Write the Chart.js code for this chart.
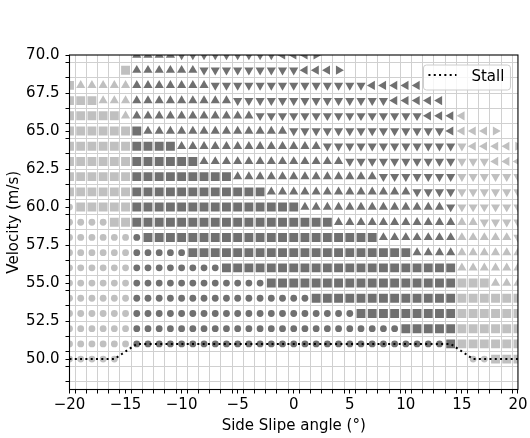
<!DOCTYPE html>
<html>
<head>
<meta charset="utf-8">
<script src="https://cdn.jsdelivr.net/npm/chart.js@4.4.0/dist/chart.umd.min.js"></script>
<style>
  html, body { margin: 0; padding: 0; background: #fff; }
  #wrap { width: 530px; height: 438px; position: relative; }
</style>
</head>
<body>
<div id="wrap"><canvas id="chart"></canvas></div>
<script>
// Test grid: side slip angle columns and velocity rows
const angles = [-20, -19, -18, -17, -16, -15, -14, -13, -12, -11, -10, -9, -8, -7, -6, -5, -4, -3, -2, -1,
                0, 1, 2, 3, 4, 5, 6, 7, 8, 9, 10, 11, 12, 13, 14, 15, 16, 17, 18, 19, 20];
const velocities = [70, 69, 68, 67, 66, 65, 64, 63, 62, 61, 60, 59, 58, 57, 56, 55, 54, 53, 52, 51, 50];

// For each velocity row: [first angle, marker code] segments, running to the next segment.
// c circle, s square, u/d/l/r triangle up/down/left/right; upper case = dark grey, lower case = light grey, '.' = none
const rowSegments = [
  [[-20, '.'], [-14, 'U'], [-10, 'D'], [-1, 'L'], [2, 'R'], [3, '.']],
  [[-20, '.'], [-15, 's'], [-14, 'U'], [-8, 'D'], [1, 'L'], [4, 'R'], [5, '.']],
  [[-20, 's'], [-19, 'u'], [-14, 'U'], [-7, 'D'], [7, 'L'], [12, '.']],
  [[-20, 's'], [-17, 'u'], [-14, 'U'], [-5, 'D'], [9, 'L'], [14, '.']],
  [[-20, 's'], [-15, 'u'], [-14, 'U'], [-3, 'D'], [12, 'L'], [15, 'l'], [16, '.']],
  [[-20, 's'], [-14, 'S'], [-13, 'U'], [0, 'D'], [14, 'L'], [15, 'l'], [18, 'r'], [19, '.']],
  [[-20, 's'], [-14, 'S'], [-10, 'U'], [3, 'D'], [15, 'd'], [16, 'l'], [20, 'r']],
  [[-20, 's'], [-14, 'S'], [-8, 'U'], [5, 'D'], [15, 'd'], [18, 'l']],
  [[-20, 's'], [-14, 'S'], [-5, 'U'], [8, 'D'], [15, 'd']],
  [[-20, 's'], [-14, 'S'], [-2, 'U'], [11, 'D'], [15, 'd']],
  [[-20, 'c'], [-19, 's'], [-14, 'S'], [1, 'U'], [14, 'D'], [15, 'd']],
  [[-20, 'c'], [-16, 's'], [-14, 'S'], [4, 'U'], [15, 'u'], [17, 'd']],
  [[-20, 'c'], [-14, 'C'], [-13, 'S'], [8, 'U'], [15, 'u'], [20, 'd']],
  [[-20, 'c'], [-14, 'C'], [-9, 'S'], [11, 'U'], [15, 'u']],
  [[-20, 'c'], [-14, 'C'], [-6, 'S'], [15, 'u']],
  [[-20, 'c'], [-14, 'C'], [-2, 'S'], [15, 's'], [18, 'u']],
  [[-20, 'c'], [-14, 'C'], [2, 'S'], [15, 's']],
  [[-20, 'c'], [-14, 'C'], [6, 'S'], [15, 's']],
  [[-20, 'c'], [-14, 'C'], [10, 'S'], [15, 's']],
  [[-20, 'c'], [-14, 'C'], [14, 'S'], [15, 's']],
  [[-20, 'c'], [-15, '.'], [16, 'c'], [18, 's']]
];

// Stall boundary
const stallAngles = [-20, -16, -14, 14, 16, 20];
const stallVelocity = [50, 50, 51, 51, 50, 50];

const xTickLabels = [-20, -15, -10, -5, 0, 5, 10, 15, 20];
const yTickLabels = [50, 52.5, 55, 57.5, 60, 62.5, 65, 67.5, 70];

const darkGrey = '#707070';
const lightGrey = '#c0c0c0';
const fontFamily = "'DejaVu Sans', sans-serif";
const fontSize = 15;

const markerShapes = {
  c: { style: 'circle', radius: 3.4, rotation: 0 },
  s: { style: 'rect', radius: 6.3, rotation: 0 },
  u: { style: 'triangle', radius: 5.3, rotation: 0 },
  d: { style: 'triangle', radius: 5.3, rotation: 180 },
  l: { style: 'triangle', radius: 5.3, rotation: 270 },
  r: { style: 'triangle', radius: 5.3, rotation: 90 }
};

// group the grid points by marker code
const pointGroups = {};
velocities.forEach((v, row) => {
  angles.forEach(a => {
    let code = '.';
    rowSegments[row].forEach(([from, c]) => { if (a >= from) code = c; });
    if (code === '.') return;
    if (!pointGroups[code]) pointGroups[code] = [];
    pointGroups[code].push({ x: a, y: v });
  });
});

const markerDatasets = Object.keys(pointGroups).map(code => {
  const shape = markerShapes[code.toLowerCase()];
  const colour = code === code.toUpperCase() ? darkGrey : lightGrey;
  return {
    label: code,
    data: pointGroups[code],
    pointStyle: shape.style,
    pointRadius: shape.radius,
    pointHoverRadius: shape.radius,
    pointRotation: shape.rotation,
    pointBackgroundColor: colour,
    pointBorderWidth: 0,
    clip: 0,
    order: 1
  };
});

const stallDataset = {
  label: 'Stall',
  data: stallAngles.map((a, i) => ({ x: a, y: stallVelocity[i] })),
  showLine: true,
  borderColor: '#000',
  borderWidth: 2,
  borderDash: [2, 3.3],
  pointRadius: 0,
  pointHoverRadius: 0,
  fill: false,
  clip: 0,
  order: 0
};

// ticks at every half step (grid lines) plus the labelled ones
function tickValues(min, max, labels) {
  const vals = new Set(labels);
  for (let v = min + 0.5; v < max; v += 1) vals.add(v);
  return [...vals].sort((a, b) => a - b).map(v => ({ value: v }));
}
const gridColour = ctx => (Math.abs(ctx.tick.value % 1) === 0.5 ? '#d0d0d0' : 'rgba(0,0,0,0)');

// axes frame and legend box
const framePlugin = {
  id: 'frame',
  afterDatasetsDraw(chart) {
    const { ctx, chartArea: a } = chart;
    ctx.save();
    ctx.strokeStyle = '#000';
    ctx.lineWidth = 1.1;
    ctx.strokeRect(a.left, a.top, a.right - a.left, a.bottom - a.top);
    ctx.restore();
  },
  afterDraw(chart) {
    const { ctx, chartArea: a } = chart;
    const x = a.right - 94.5, y = a.top + 10, w = 87, h = 25;
    ctx.save();
    ctx.beginPath();
    ctx.roundRect(x, y, w, h, 3);
    ctx.fillStyle = 'rgba(255,255,255,0.8)';
    ctx.fill();
    ctx.strokeStyle = '#cccccc';
    ctx.lineWidth = 1;
    ctx.stroke();
    ctx.beginPath();
    ctx.setLineDash([2, 3.3]);
    ctx.strokeStyle = '#000';
    ctx.lineWidth = 2;
    ctx.moveTo(x + 5, y + 10);
    ctx.lineTo(x + 33, y + 10);
    ctx.stroke();
    ctx.setLineDash([]);
    ctx.fillStyle = '#000';
    ctx.font = fontSize + 'px ' + fontFamily;
    ctx.textBaseline = 'alphabetic';
    ctx.fillText('Stall', x + 48, y + 15.5);
    ctx.restore();
  }
};

new Chart(document.getElementById('chart'), {
  type: 'scatter',
  data: { datasets: [stallDataset, ...markerDatasets] },
  options: {
    responsive: true,
    maintainAspectRatio: false,
    animation: false,
    events: [],
    layout: { padding: { top: 55, right: 10.5, left: 0, bottom: 0 } },
    plugins: { legend: { display: false }, tooltip: { enabled: false } },
    scales: {
      x: {
        type: 'linear',
        min: -20,
        max: 20,
        afterBuildTicks: scale => { scale.ticks = tickValues(-20, 20, xTickLabels); },
        afterFit: scale => { scale.height = 48.5; },
        ticks: {
          autoSkip: false,
          maxRotation: 0,
          padding: 2.5,
          color: '#000',
          font: { family: fontFamily, size: fontSize },
          callback: v => (xTickLabels.includes(v) ? (v < 0 ? '\u2212' + (-v) : String(v)) : '')
        },
        grid: { color: gridColour, tickColor: '#000', tickLength: 4, lineWidth: 1 },
        border: { display: false },
        title: {
          display: true,
          text: 'Side Slipe angle (°)',
          color: '#000',
          font: { family: fontFamily, size: fontSize },
          padding: { top: 0, bottom: 3 }
        }
      },
      y: {
        type: 'linear',
        min: 48,
        max: 70,
        afterBuildTicks: scale => { scale.ticks = tickValues(48, 70, yTickLabels); },
        afterFit: scale => { scale.width = 69.5; },
        ticks: {
          autoSkip: false,
          padding: 6,
          color: '#000',
          font: { family: fontFamily, size: fontSize },
          callback: v => (yTickLabels.includes(v) ? v.toFixed(1) : '')
        },
        grid: { color: gridColour, tickColor: '#000', tickLength: 4, lineWidth: 1 },
        border: { display: false },
        title: {
          display: true,
          text: 'Velocity (m/s)',
          color: '#000',
          font: { family: fontFamily, size: fontSize },
          padding: { top: 5, bottom: 0 }
        }
      }
    }
  },
  plugins: [framePlugin]
});
</script>
</body>
</html>
